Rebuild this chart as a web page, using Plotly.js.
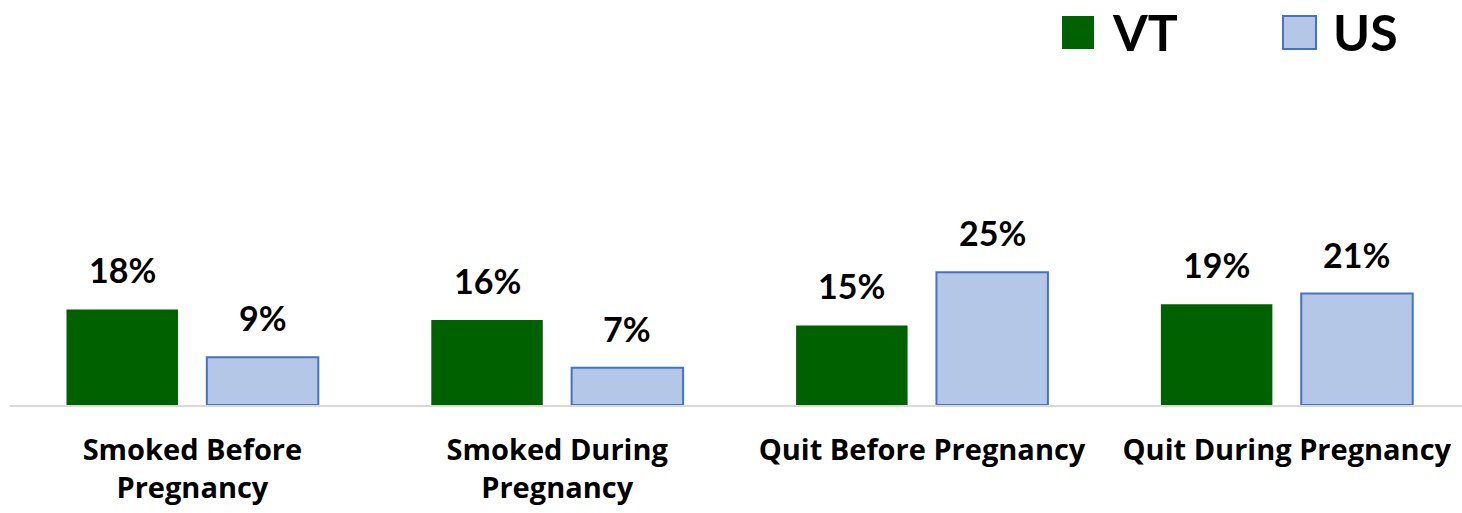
<!DOCTYPE html>
<html>
<head>
<meta charset="utf-8">
<script src="https://cdn.plot.ly/plotly-3.0.1.min.js"></script>
<style>html,body{margin:0;padding:0;background:#fff;}#chart{width:1462px;height:513px;}</style>
</head>
<body>
<div id="chart"></div>
<script>
const categories = ["Smoked Before<br>Pregnancy", "Smoked During<br>Pregnancy", "Quit Before Pregnancy", "Quit During Pregnancy"];
const seriesNames = ["VT", "US"];
const vtValues = [18, 16, 15, 19];
const usValues = [9, 7, 25, 21];

const W = 1462, H = 513;
const M = {l: 10, r: 0, t: 60, b: 108};
const bargap = 0.2306, bargroupgap = 0.2056;
const slot = (1 - bargap) / 2;
const FONT = "Lato, 'Open Sans', sans-serif";
const TICKFONT = "'Open Sans', Lato, sans-serif";

const idx = categories.map((_, i) => i);
const traces = [
  {type: 'bar', name: seriesNames[0], x: idx, y: vtValues,
   marker: {color: '#006100', line: {color: '#006100', width: 0}}, showlegend: false, hoverinfo: 'skip'},
  {type: 'bar', name: seriesNames[1], x: idx, y: usValues,
   marker: {color: '#B4C7E7', line: {color: '#4472C4', width: 2}}, showlegend: false, hoverinfo: 'skip'}
];

const annotations = [];
[vtValues, usValues].forEach((vals, s) => {
  vals.forEach((v, i) => {
    annotations.push({xref: 'x', yref: 'y', x: i + (s === 0 ? -slot / 2 : slot / 2), y: v,
      text: v + '%', showarrow: false, yanchor: 'bottom', yshift: 17,
      font: {family: FONT, size: 34, color: '#000', weight: 700}});
  });
});

const pw = W - M.l - M.r, ph = H - M.t - M.b;
const px2x = p => (p - M.l) / pw;
const px2y = p => (H - M.b - p) / ph;
const legendItems = [
  {name: seriesNames[0], x0: 1062, x1: 1094, tx: 1110, fill: '#006100', line: '#006100', lw: 0},
  {name: seriesNames[1], x0: 1283, x1: 1316, tx: 1331, fill: '#B4C7E7', line: '#4472C4', lw: 2}
];
const shapes = [];
legendItems.forEach(it => {
  shapes.push({type: 'rect', xref: 'paper', yref: 'paper', x0: px2x(it.x0), x1: px2x(it.x1),
    y0: px2y(49), y1: px2y(16), fillcolor: it.fill, line: {color: it.line, width: it.lw}});
  annotations.push({xref: 'paper', yref: 'paper', x: px2x(it.tx), y: px2y(32), xanchor: 'left', yanchor: 'middle',
    text: it.name, showarrow: false, font: {family: FONT, size: 50, color: '#000', weight: 700}});
});

const layout = {
  width: W, height: H, margin: M,
  paper_bgcolor: '#fff', plot_bgcolor: '#fff',
  barmode: 'group', bargap: bargap, bargroupgap: bargroupgap,
  xaxis: {range: [-0.5, -0.5 + pw / 364.8], tickvals: idx, ticktext: categories, showgrid: false, zeroline: false,
    showline: true, linecolor: '#D9D9D9', linewidth: 2, ticks: '', ticklabelstandoff: 18,
    tickfont: {family: TICKFONT, size: 29, color: '#000', weight: 700}},
  yaxis: {range: [0, 65], visible: false, showgrid: false, zeroline: false},
  shapes: shapes, annotations: annotations, showlegend: false
};
Plotly.newPlot('chart', traces, layout, {displayModeBar: false, staticPlot: true});
</script>
</body>
</html>
